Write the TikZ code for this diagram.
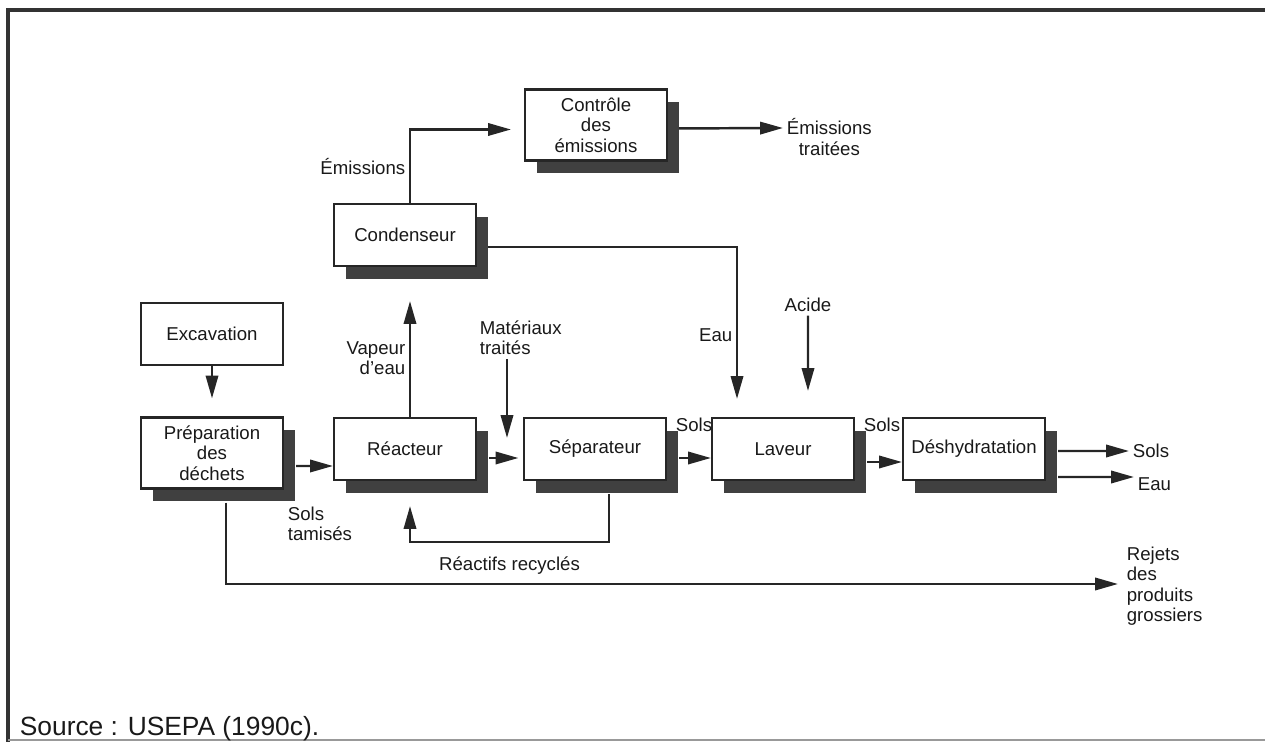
\documentclass[tikz,border=0pt]{standalone}
\usepackage{fontspec}
\setmainfont{Liberation Sans}
\usetikzlibrary{arrows.meta,shadows}

\begin{document}
\begin{tikzpicture}[
    x=0.02cm, y=-0.02cm,
    font=\fontsize{10.6}{11.6}\selectfont,
    plain/.style={rectangle, draw=black!85, line width=1.2pt, fill=white, text=black!90, text width=2.7cm, align=center, minimum width=2.84cm, minimum height=1.24cm, inner sep=1pt},
    proc/.style={plain, drop shadow={shadow xshift=0.24cm, shadow yshift=-0.26cm, fill=black!75, opacity=1}},
    lbl/.style={inner sep=2pt, text=black!90},
    arrow/.style={-{Triangle[length=13pt, width=7pt]}, line width=1.4pt, draw=black!85}
  ]
    \useasboundingbox (0,0) rectangle (1265,742);

    % Frame
    \draw[line width=2.2pt, black!80] (1265,10) -- (8,10) -- (8,742);
    \draw[black!40, line width=0.6pt] (8,740) -- (1265,740);

    % Main line - treatment steps
    \node[plain] (exc) at (212,334) {Excavation};
    \node[proc, minimum height=1.42cm] (prep) at (212,453) {Préparation\\des\\déchets};
    \node[proc] (reac) at (405,449) {Réacteur};
    \node[proc] (sep) at (595,449) {Séparateur};
    \node[proc] (lav) at (783,449) {Laveur};
    \node[proc] (desh) at (974,449) {Déshydratation};

    % Upper layer - vapour treatment
    \node[proc] (cond) at (405,235) {Condenseur};
    \node[proc, minimum height=1.42cm] (ctrl) at (596,125) {Contrôle\\des\\émissions};

    % Inputs and outputs
    \node[lbl, align=left, anchor=west] (mat) at (476,338) {Matériaux\\traités};
    \coordinate (matin) at (507,438);
    \node[lbl] (acide) at (808,305) {Acide};
    \node[lbl, align=center, anchor=west] (emtr) at (783,137) {Émissions\\traitées};
    \node[lbl, anchor=west] (solsout) at (1129,451) {Sols};
    \node[lbl, anchor=west] (eauout) at (1134,484) {Eau};
    \node[lbl, align=left, anchor=west] (rej) at (1123,586) {Rejets\\des\\produits\\grossiers};
    \node[lbl, align=left, anchor=west] (tam) at (284,524) {Sols\\tamisés};
    \node[lbl] (sols1) at (694,425) {Sols};
    \node[lbl] (sols2) at (882,425) {Sols};

    % Source
    \node[lbl, anchor=base west, font=\fontsize{15}{18}\selectfont] (src) at (16,736) {Source : USEPA (1990c).};

    % Arrows - main flow
    \draw[arrow, shorten >=0.36cm] (exc) -- (prep);
    \draw[arrow, shorten <=0.24cm] ([yshift=-0.26cm]prep.east) -- ([yshift=-0.34cm]reac.west);
    \draw[arrow, shorten <=0.24cm, shorten >=0.09cm] ([yshift=-0.18cm]reac.east) -- ([yshift=-0.18cm]sep.west);
    \draw[arrow, shorten <=0.24cm] ([yshift=-0.18cm]sep.east) -- ([yshift=-0.18cm]lav.west);
    \draw[arrow, shorten <=0.24cm] ([yshift=-0.26cm]lav.east) -- ([yshift=-0.26cm]desh.west);
    \draw[arrow, shorten <=0.24cm] ([yshift=-0.04cm]desh.east) -- (solsout.west);
    \draw[arrow, shorten <=0.24cm] ([yshift=-0.56cm]desh.east) -- ([yshift=0.14cm]eauout.west);
    \draw[arrow] (mat.south -| matin) -- (matin);
    \draw[arrow, shorten >=0.52cm] (acide) -- ([xshift=0.5cm]lav.north);

    % Arrows - vapour and water
    \draw[arrow, shorten >=0.68cm] ([xshift=0.1cm]reac.north) -- node[lbl, left, align=right, pos=0.39] {Vapeur\\d'eau} ([xshift=0.1cm]cond.south);
    \draw[arrow, shorten >=0.26cm] ([xshift=0.1cm]cond.north) |- node[lbl, left, pos=0.25] {Émissions} ([yshift=-0.09cm]ctrl.west);
    \draw[arrow, shorten <=0.22cm] ([yshift=-0.07cm]ctrl.east) -- ([yshift=0.18cm]emtr.west);
    \draw[arrow, shorten <=0.22cm, shorten >=0.36cm] ([yshift=-0.24cm]cond.east) -| node[lbl, left, pos=0.76] {Eau} ([xshift=-0.92cm]lav.north);

    % Arrows - recycling and rejects
    \draw[arrow, shorten <=0.26cm, shorten >=0.5cm] ([xshift=0.28cm]sep.south) -- ++(0,61) -| node[lbl, pos=0.25, below=0.2cm] {Réactifs recyclés} ([xshift=0.1cm]reac.south);
    \draw[arrow, shorten <=0.26cm, shorten >=0.1cm] ([xshift=0.28cm]prep.south) |- ([yshift=0.04cm]rej.west);

  \end{tikzpicture}
\end{document}
